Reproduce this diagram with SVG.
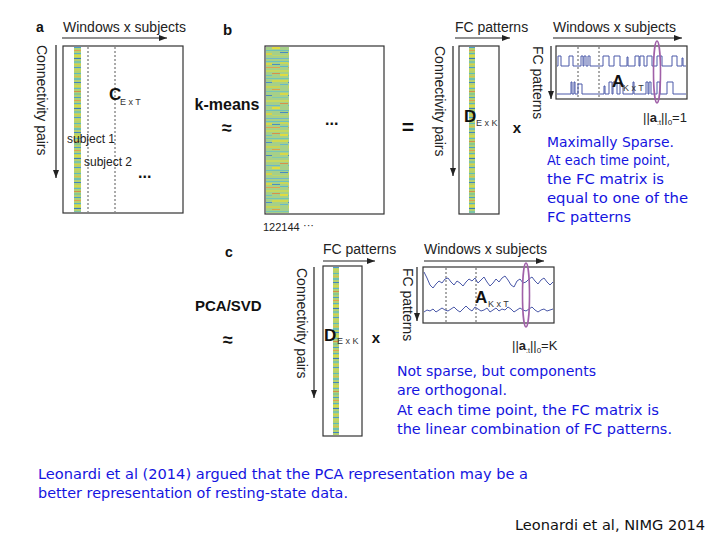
<svg xmlns="http://www.w3.org/2000/svg" width="720" height="540" viewBox="0 0 720 540">
<style>
  .lbl{font-family:"Liberation Sans",Arial,sans-serif;fill:#222}
  .ax{font-family:"Liberation Sans",Arial,sans-serif;font-size:14px;fill:#222}
  .bold{font-family:"Liberation Sans",Arial,sans-serif;font-weight:bold;fill:#111}
  .sub{font-family:"Liberation Sans",Arial,sans-serif;font-size:9px;fill:#333}
  .box{fill:#fff;stroke:#333;stroke-width:1.2}
  .dash{stroke:#444;stroke-width:0.9;stroke-dasharray:2,2;fill:none}
  .arr{stroke:#222;stroke-width:1.2;fill:none;marker-end:url(#ah)}
  .sig{stroke:#4a58a8;stroke-width:1;fill:none}
  .ell{fill:none;stroke:#a060a8;stroke-width:1.6}
  .hand{font-family:"DejaVu Sans","Noto Sans",sans-serif;font-size:14px;fill:#1414e0}
</style>
<defs>
  <marker id="ah" markerWidth="8" markerHeight="6" refX="8" refY="3" orient="auto" markerUnits="userSpaceOnUse">
    <path d="M0,0 L8,3 L0,6 z" fill="#222"/>
  </marker>
  <pattern id="hmA" width="7" height="50" patternUnits="userSpaceOnUse">
    <rect width="7" height="50" fill="#b2d070"/>
    <rect y="0" width="7" height="1" fill="#e0a050"/>
    <rect y="3" width="7" height="1" fill="#58b4c4"/>
    <rect y="5" width="7" height="2" fill="#d6d848"/>
    <rect y="8" width="7" height="1" fill="#3c7cba"/>
    <rect y="11" width="7" height="2" fill="#7cc4a8"/>
    <rect y="14" width="7" height="1" fill="#d8d040"/>
    <rect y="17" width="7" height="1" fill="#4a9ccc"/>
    <rect y="19" width="7" height="2" fill="#c0d460"/>
    <rect y="23" width="7" height="1" fill="#5cbcbc"/>
    <rect y="26" width="7" height="1" fill="#dcc048"/>
    <rect y="28" width="7" height="2" fill="#70c0b0"/>
    <rect y="32" width="7" height="1" fill="#3f86c0"/>
    <rect y="35" width="7" height="2" fill="#d0d850"/>
    <rect y="38" width="7" height="1" fill="#60b8c8"/>
    <rect y="41" width="7" height="1" fill="#d4904a"/>
    <rect y="43" width="7" height="2" fill="#88c890"/>
    <rect y="47" width="7" height="1" fill="#4aa0c8"/>
  </pattern>
  <pattern id="hmB" width="24" height="60" patternUnits="userSpaceOnUse">
    <rect width="24" height="60" fill="#a6d088"/>
    <rect x="0" y="1" width="24" height="1" fill="#6cc0c0"/>
    <rect x="0" y="3" width="8" height="2" fill="#d8d848"/>
    <rect x="8" y="4" width="8" height="1" fill="#4a90c0"/>
    <rect x="16" y="2" width="8" height="2" fill="#c8d858"/>
    <rect x="0" y="7" width="16" height="1" fill="#e0a050"/>
    <rect x="16" y="6" width="8" height="1" fill="#60b8c8"/>
    <rect x="0" y="10" width="24" height="2" fill="#c4d860"/>
    <rect x="8" y="13" width="8" height="1" fill="#d89048"/>
    <rect x="0" y="15" width="8" height="1" fill="#70c0c0"/>
    <rect x="16" y="14" width="8" height="2" fill="#e0dc40"/>
    <rect x="0" y="18" width="24" height="1" fill="#70c4b8"/>
    <rect x="8" y="20" width="16" height="2" fill="#d0d850"/>
    <rect x="0" y="22" width="8" height="1" fill="#4a90c8"/>
    <rect x="16" y="24" width="8" height="1" fill="#68b8c8"/>
    <rect x="0" y="26" width="16" height="2" fill="#c8d458"/>
    <rect x="8" y="29" width="8" height="1" fill="#e0a048"/>
    <rect x="0" y="31" width="24" height="1" fill="#78c4b8"/>
    <rect x="16" y="33" width="8" height="2" fill="#d8d848"/>
    <rect x="0" y="35" width="8" height="1" fill="#4a88c0"/>
    <rect x="8" y="37" width="16" height="1" fill="#80c8b0"/>
    <rect x="0" y="40" width="24" height="2" fill="#c8d860"/>
    <rect x="16" y="43" width="8" height="1" fill="#d89048"/>
    <rect x="0" y="45" width="16" height="1" fill="#6cb8c8"/>
    <rect x="8" y="47" width="8" height="2" fill="#e0dc40"/>
    <rect x="0" y="50" width="24" height="1" fill="#70c0b8"/>
    <rect x="0" y="53" width="8" height="2" fill="#d8d448"/>
    <rect x="16" y="52" width="8" height="1" fill="#4a88c0"/>
    <rect x="8" y="55" width="16" height="1" fill="#c0d468"/>
    <rect x="0" y="58" width="24" height="1" fill="#70b8c8"/>
  </pattern>
</defs>
<rect width="720" height="540" fill="#fff"/>

<!-- Panel a -->
<g id="panel-a">
  <text class="bold" x="36" y="32" font-size="14">a</text>
  <text class="ax" x="63" y="32">Windows x subjects</text>
  <text class="ax" transform="translate(37,45) rotate(90)">Connectivity pairs</text>
  <rect class="box" x="63" y="46" width="120" height="167"/>
  <rect x="74" y="47" width="7" height="165" fill="url(#hmA)"/>
  <line class="dash" x1="88" y1="47" x2="88" y2="212"/>
  <line class="dash" x1="115" y1="47" x2="115" y2="212"/>
  <text class="bold" x="109" y="100" font-size="17">C</text>
  <text class="sub" x="120" y="105">E x T</text>
  <text class="lbl" x="67" y="143" font-size="12">subject 1</text>
  <text class="lbl" x="84" y="166" font-size="12">subject 2</text>
  <text class="bold" x="138" y="178" font-size="16">...</text>
</g>

<!-- Panel b -->
<g id="panel-b">
  <text class="bold" x="223" y="35" font-size="15">b</text>
  <text class="bold" x="227" y="110" font-size="16" text-anchor="middle">k-means</text>
  <text class="bold" x="227" y="134" font-size="18" text-anchor="middle">≈</text>
  <rect class="box" x="265" y="46" width="119" height="168"/>
  <rect x="266" y="47" width="23" height="166" fill="url(#hmB)"/>
  <text class="bold" x="325" y="125" font-size="16">...</text>
  <text class="lbl" x="263" y="231" font-size="11" fill="#555">122144</text>
  <text class="lbl" x="303" y="229" font-size="11" fill="#555">···</text>
  <text class="bold" x="408" y="134" font-size="21" text-anchor="middle">=</text>
</g>

<!-- D (k-means) -->
<g id="D-kmeans">
  <text class="ax" x="455" y="32">FC patterns</text>
  <text class="ax" transform="translate(435,46) rotate(90)">Connectivity pairs</text>
  <rect class="box" x="459" y="46" width="40" height="168"/>
  <rect x="469" y="47" width="6" height="166" fill="url(#hmA)"/>
  <text class="bold" x="464" y="122" font-size="17">D</text>
  <text class="sub" x="476" y="126">E x K</text>
  <text class="bold" x="517" y="133" font-size="15" text-anchor="middle">x</text>
</g>

<!-- A (k-means) -->
<g id="A-kmeans">
  <text class="ax" x="553" y="32">Windows x subjects</text>
  <text class="ax" transform="translate(533,46) rotate(90)">FC patterns</text>
  <rect class="box" x="556" y="46" width="131" height="53"/>
  <line class="dash" x1="578" y1="47" x2="578" y2="98"/>
  <line class="dash" x1="599" y1="47" x2="599" y2="98"/>
  <path class="sig" d="M557,66 H558 V56 H561 V66 H569 V56 H573 V66 H581 V56 H583 V66 H584 V56 H586 V66 H588 V56 H590 V66 H603 V56 H609 V66 H614 V56 H620 V66 H627 V57 H628 V66 H635 V56 H639 V66 H640 V56 H644 V66 H647 V56 H652 V66 H657 V56 H662 V66 H672 V56 H677 V66 H682 V58 H683 V66 H686"/>
  <path class="sig" d="M557,94 H571 V82 H572 V94 H574 V82 H575 V94 H578 V84 H582 V94 H604 V86 H605 V94 H609 V82 H612 V94 H613 V82 H617 V94 H620 V84 H623 V94 H633 V82 H634 V94 H646 V82 H648 V94 H649 V82 H651 V94 H657 V82 H660 V94 H667 V82 H673 V94 H686"/>
  <text class="bold" x="612" y="87" font-size="17">A</text>
  <text class="sub" x="623" y="91">K x T</text>
  <ellipse class="ell" cx="657" cy="72" rx="3.5" ry="31"/>
  <text class="lbl" x="643" y="122" font-size="13">||<tspan font-weight="bold">a</tspan><tspan font-size="7" dy="3">:t</tspan><tspan dy="-3">||</tspan><tspan font-size="8" dy="3">0</tspan><tspan dy="-3">=1</tspan></text>
</g>

<g id="note-kmeans">
  <text class="hand" x="547" y="147" textLength="127" lengthAdjust="spacingAndGlyphs">Maximally Sparse.</text>
  <text class="hand" x="547" y="165" textLength="123" lengthAdjust="spacingAndGlyphs">At each time point,</text>
  <text class="hand" x="547" y="184" textLength="117" lengthAdjust="spacingAndGlyphs">the FC matrix is</text>
  <text class="hand" x="547" y="203" textLength="141" lengthAdjust="spacingAndGlyphs">equal to one of the</text>
  <text class="hand" x="547" y="222" textLength="84" lengthAdjust="spacingAndGlyphs">FC patterns</text>
</g>

<!-- Panel c -->
<g id="panel-c">
  <text class="bold" x="225" y="257" font-size="14">c</text>
  <text class="bold" x="195" y="311" font-size="15">PCA/SVD</text>
  <text class="bold" x="228" y="346" font-size="18" text-anchor="middle">≈</text>
</g>

<g id="D-pca">
  <text class="ax" x="323" y="254">FC patterns</text>
  <text class="ax" transform="translate(297,268) rotate(90)">Connectivity pairs</text>
  <rect class="box" x="323" y="266" width="39" height="170"/>
  <rect x="333" y="267" width="6" height="168" fill="url(#hmA)"/>
  <text class="bold" x="324" y="341" font-size="17">D</text>
  <text class="sub" x="337" y="344">E x K</text>
  <text class="bold" x="376" y="343" font-size="15" text-anchor="middle">x</text>
</g>

<g id="A-pca">
  <text class="ax" x="424" y="254">Windows x subjects</text>
  <text class="ax" transform="translate(403,268) rotate(90)">FC patterns</text>
  <rect class="box" x="423" y="267" width="131" height="56"/>
  <line class="dash" x1="446" y1="268" x2="446" y2="322"/>
  <line class="dash" x1="476" y1="268" x2="476" y2="322"/>
  <polyline class="sig" points="424,272 427,278 430,285 433,288 436,284 439,281 442,283 445,279 448,278 451,282 454,285 457,281 460,283 463,286 466,282 469,279 472,281 475,278 478,283 481,280 484,277 487,282 490,286 493,283 496,279 499,282 502,278 505,276 508,280 511,285 514,287 517,281 520,279 523,283 526,282 529,279 532,277 535,281 538,284 541,280 544,278 547,282 550,285 553,282"/>
  <polyline class="sig" points="424,312 427,310 430,311 433,309 436,312 439,310 442,308 445,310 448,311 451,309 454,307 457,310 460,312 463,309 466,306 469,309 472,311 475,307 478,309 481,311 484,310 487,308 490,312 493,310 496,308 499,311 502,309 505,310 508,307 511,309 514,312 517,310 520,308 523,310 526,311 529,309 532,307 535,310 538,312 541,310 544,309 547,311 550,310 553,309"/>
  <text class="bold" x="475" y="303" font-size="17">A</text>
  <text class="sub" x="488" y="307">K x T</text>
  <ellipse class="ell" cx="526" cy="295" rx="3.5" ry="32"/>
  <text class="lbl" x="512" y="350" font-size="13">||<tspan font-weight="bold">a</tspan><tspan font-size="7" dy="3">:t</tspan><tspan dy="-3">||</tspan><tspan font-size="8" dy="3">0</tspan><tspan dy="-3">=K</tspan></text>
</g>

<g id="note-pca">
  <text class="hand" x="397" y="376" textLength="199" lengthAdjust="spacingAndGlyphs">Not sparse, but components</text>
  <text class="hand" x="397" y="395" textLength="110" lengthAdjust="spacingAndGlyphs">are orthogonal.</text>
  <text class="hand" x="397" y="415" textLength="262" lengthAdjust="spacingAndGlyphs">At each time point, the FC matrix is</text>
  <text class="hand" x="397" y="434" textLength="275" lengthAdjust="spacingAndGlyphs">the linear combination of FC patterns.</text>
</g>

<g id="conclusion">
  <text class="hand" x="38" y="479" textLength="490" lengthAdjust="spacingAndGlyphs">Leonardi et al (2014) argued that the PCA representation may be a</text>
  <text class="hand" x="38" y="498" textLength="310" lengthAdjust="spacingAndGlyphs">better representation of resting-state data.</text>
  <text class="hand" x="515" y="530" style="fill:#111" textLength="190" lengthAdjust="spacingAndGlyphs">Leonardi et al, NIMG 2014</text>
</g>

<!-- Axis arrows -->
<g id="connectors">
  <line class="arr" x1="62" y1="38" x2="167" y2="38"/>
  <line class="arr" x1="56" y1="45" x2="56" y2="178"/>
  <line class="arr" x1="455" y1="38" x2="510" y2="38"/>
  <line class="arr" x1="453" y1="46" x2="453" y2="176"/>
  <line class="arr" x1="553" y1="38" x2="682" y2="38"/>
  <line class="arr" x1="551" y1="46" x2="551" y2="99"/>
  <line class="arr" x1="323" y1="261" x2="375" y2="261"/>
  <line class="arr" x1="314" y1="267" x2="314" y2="398"/>
  <line class="arr" x1="424" y1="261" x2="544" y2="261"/>
  <line class="arr" x1="417" y1="267" x2="417" y2="321"/>
</g>
</svg>
